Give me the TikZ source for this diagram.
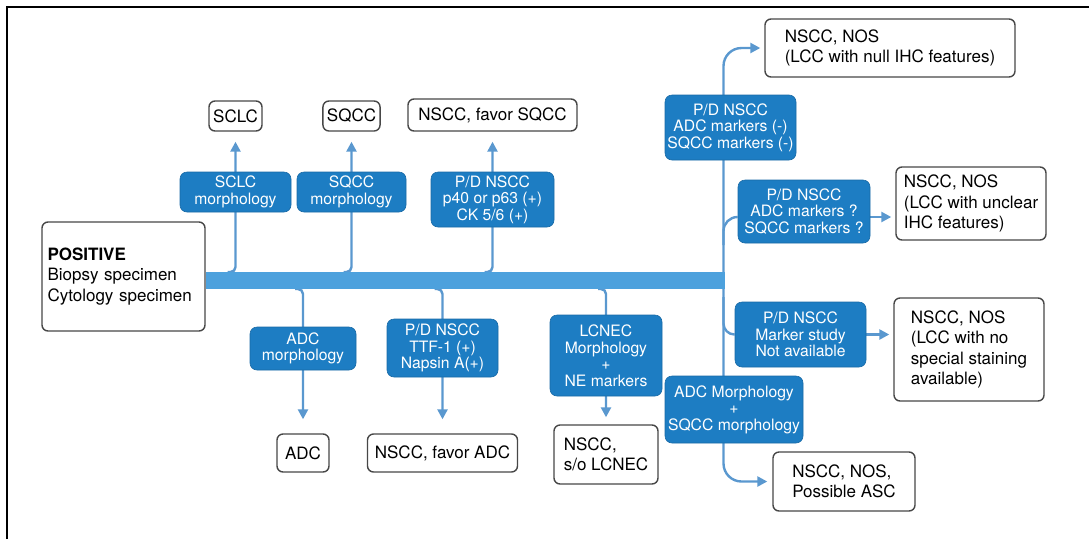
\documentclass[tikz,border=0pt]{standalone}
\usepackage{fontspec}
\setmainfont{TeX Gyre Heros}
\usepackage{xcolor}
\usetikzlibrary{positioning,arrows.meta,calc}
\definecolor{boxblue}{HTML}{1D7DC3}
\definecolor{barblue}{HTML}{4DA1DD}
\definecolor{lineblue}{HTML}{5A98CF}
\definecolor{edgegray}{HTML}{474747}
\newcommand{\wfont}{\fontsize{17}{20.5}\selectfont}
\newcommand{\bfont}{\fontsize{15.7}{16.5}\selectfont}
\pgfdeclarelayer{bg}
\pgfsetlayers{bg,main}

\begin{document}
\begin{tikzpicture}[
  x=1pt, y=-1pt,
  res/.style={draw=edgegray, line width=1.4pt, rounded corners=6pt, fill=white, font=\wfont, inner sep=4pt, align=left},
  crit/.style={fill=boxblue, draw=boxblue!85!black, line width=0.6pt, rounded corners=7pt, text=white, font=\bfont, align=center, inner sep=2pt},
  trunk/.style={fill=barblue, inner sep=0pt, outer sep=0pt},
  conn/.style={draw=lineblue, line width=2.4pt},
  arr/.style={conn, -{Triangle[length=10pt,width=10pt]}}
]
\useasboundingbox (0,0) rectangle (1089,539);

\node[res, minimum width=163, minimum height=109, text width=152, inner xsep=5.5pt] (pos) at (123.5,276.5) {\textbf{POSITIVE}\\Biopsy specimen\\Cytology specimen};
\node[trunk, minimum width=519, minimum height=17, anchor=west] (bar) at ($(pos.east)+(0,4)$) {};

\node[crit, minimum width=111, minimum height=40] (sclcM) at (235.5,192) {SCLC\\morphology};
\node[crit, minimum width=109, minimum height=40] (sqccM) at (351.5,192) {SQCC\\morphology};
\node[crit, minimum width=123, minimum height=55] (pdSq) at (492.5,199.5) {P/D NSCC\\p40 or p63 (+)\\CK 5/6 (+)};
\node[res, minimum width=53, minimum height=30, above=40pt of sclcM] (sclc) {SCLC};
\node[res, minimum width=50, minimum height=30, above=40pt of sqccM] (sqcc) {SQCC};
\node[res, minimum width=169, minimum height=32, above=40pt of pdSq] (favSq) {NSCC, favor SQCC};

\node[crit, minimum width=106, minimum height=43] (adcM) at (303,348.5) {ADC\\morphology};
\node[crit, minimum width=111, minimum height=58] (pdAd) at (442.5,348) {P/D NSCC\\TTF-1 (+)\\Napsin A(+)};
\node[crit, minimum width=112, minimum height=81] (lcnec) at (606,355.5) {LCNEC\\Morphology\\+\\NE markers};
\node[res, minimum width=52, minimum height=38, below=63pt of adcM] (adc) {ADC};
\node[res, minimum width=150, minimum height=38, below=56pt of pdAd] (favAd) {NSCC, favor ADC};
\node[res, minimum width=104, minimum height=59, below=28pt of lcnec] (soL) {NSCC,\\s/o LCNEC};

\node[crit, minimum width=131, minimum height=65] (pdNull) at (730.5,127.5) {P/D NSCC\\ADC markers (-)\\SQCC markers (-)};
\node[res, minimum width=250, minimum height=58] (nosNull) at (890,48) {NSCC, NOS\\(LCC with null IHC features)};
\node[crit, minimum width=132, minimum height=63] (pdUncl) at (804,211.5) {P/D NSCC\\ADC markers ?\\SQCC markers ?};
\node[res, minimum width=150, minimum height=73] (nosUncl) at (971,203.5) {NSCC, NOS\\(LCC with unclear\\IHC features)};
\node[crit, minimum width=131, minimum height=65] (pdNa) at (800.5,334.5) {P/D NSCC\\Marker study\\Not available};
\node[res, minimum width=150, minimum height=103] (nosNa) at (969,349.5) {NSCC, NOS\\(LCC with no\\special staining\\available)};
\node[crit, minimum width=138, minimum height=67] (mixM) at (734,409.5) {ADC Morphology\\+\\SQCC morphology};
\node[res, minimum width=142, minimum height=59] (asc) at (844,481.5) {NSCC, NOS,\\Possible ASC};

\coordinate (vx) at ([xshift=-1.2pt]bar.east);
\coordinate (uB) at ($(pdUncl.west)+(0,5.5)$);
\coordinate (uA) at ($(pdUncl.east)+(0,5.5)$);

\begin{pgfonlayer}{bg}
\draw[line width=2pt] (7,539) -- (7,7) -- (1089,7);
\draw[arr, rounded corners=5pt, shorten >=10pt] ($(bar.north -| sclcM)+(-8,0)$) -| (sclc.south);
\draw[arr, rounded corners=5pt, shorten >=10pt] ($(bar.north -| sqccM)+(-8,0)$) -| (sqcc.south);
\draw[arr, rounded corners=5pt, shorten >=10pt] ($(bar.north -| pdSq)+(-8,0)$) -| (favSq.south);
\draw[arr, rounded corners=5pt, shorten >=14pt] ($(bar.south -| adcM)+(-8,0)$) -| (adc.north);
\draw[arr, rounded corners=5pt, shorten >=14pt] ($(bar.south -| pdAd)+(-8,0)$) -| (favAd.north);
\draw[arr, rounded corners=5pt, shorten >=7pt] ($(bar.south -| lcnec)+(-8,0)$) -| (soL.north);
\draw[arr, rounded corners=18pt, shorten >=4pt] (vx |- bar.south) |- (nosNull.west);
\draw[arr, rounded corners=18pt, shorten >=5pt] (vx |- bar.north) |- (asc.west);
\draw[conn, rounded corners=14pt] ($(vx |- bar.north)+(0,-27)$) |- (uB);
\draw[arr, shorten >=4pt] (uA) -- (uA -| nosUncl.west);
\draw[conn, rounded corners=11pt] ($(vx |- bar.south)+(0,8)$) |- (pdNa.west);
\draw[arr, shorten >=4pt] (pdNa.east) -- (pdNa.east -| nosNa.west);
\end{pgfonlayer}
\end{tikzpicture}
\end{document}
